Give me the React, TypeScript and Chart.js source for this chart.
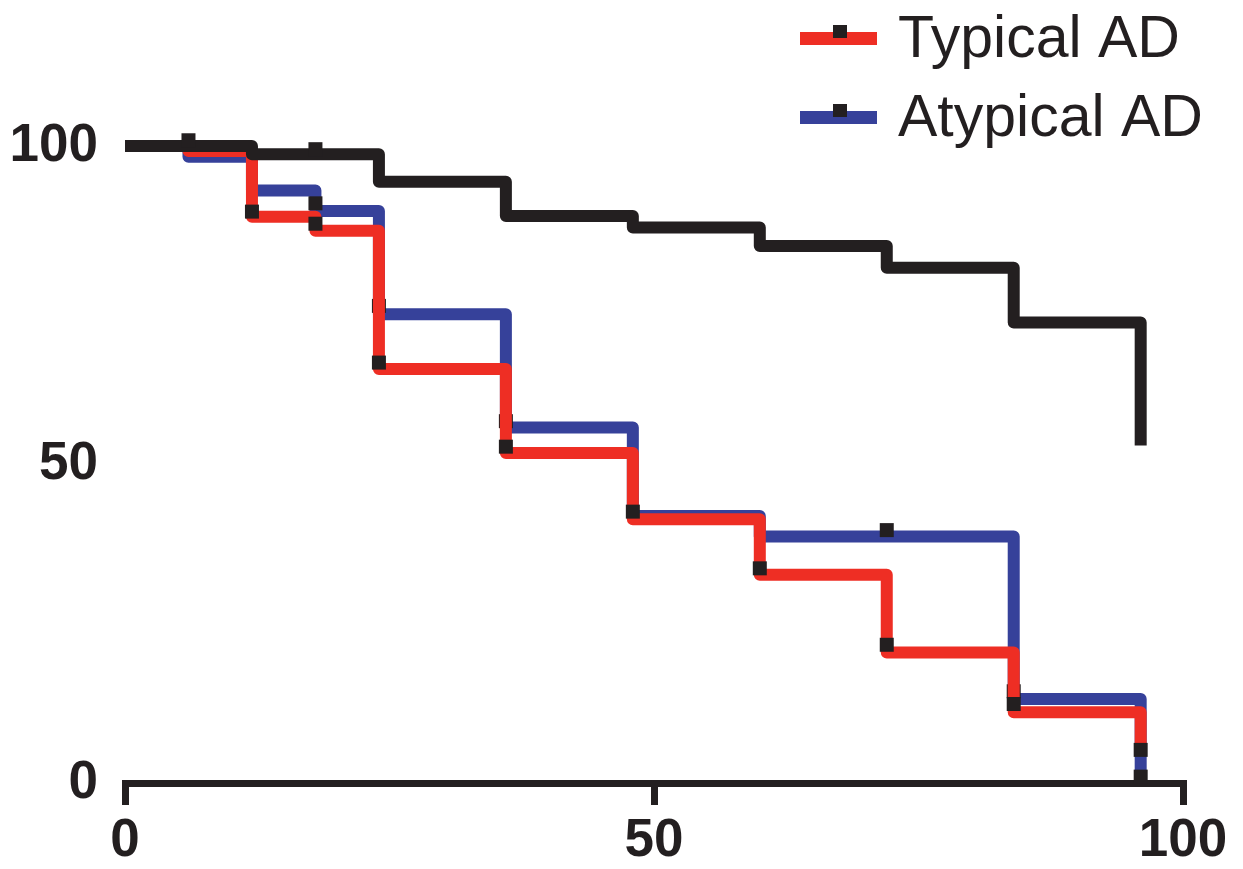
import React, { useEffect, useRef } from "react";
import { Chart, registerables } from "chart.js";

Chart.register(...registerables);

// ---- data (months vs % surviving) ----
const seriesNames = ["Control", "Typical AD", "Atypical AD"];

const controlMonths = [0, 12, 24, 36, 48, 60, 72, 84, 96];
const controlSurvival = [100, 98.7, 94.4, 89.0, 87.2, 84.3, 80.9, 72.3, 53.0];
const controlCensorMonths = [6, 18];
const controlCensorSurvival = [100.9, 99.5];

const typicalMonths = [0, 6, 12, 18, 24, 36, 48, 60, 72, 84, 96];
const typicalSurvival = [100, 99.2, 88.9, 86.7, 65.0, 51.8, 41.4, 32.7, 20.5, 11.1, 5.2];
const typicalCensorMonths = [12, 18, 24, 36, 48, 60, 72, 84, 96];
const typicalCensorSurvival = [89.7, 87.8, 66.0, 52.8, 42.6, 33.7, 21.7, 12.4, 5.2];

const atypicalMonths = [0, 6, 12, 18, 24, 36, 48, 60, 84, 96];
const atypicalSurvival = [100, 98.3, 93.0, 89.8, 73.6, 55.8, 41.9, 38.7, 13.2, 0];
const atypicalCensorMonths = [18, 24, 36, 72, 84, 96];
const atypicalCensorSurvival = [91.0, 74.9, 56.8, 39.7, 14.4, 1.0];

const xTickValues = [0, 50, 100];
const yTickValues = [0, 50, 100];

// ---- styles ----
const BLACK = "#231f20";
const RED = "#ee2e24";
const BLUE = "#36419a";
const FONT = "'Liberation Sans', Arial, Helvetica, sans-serif";

const toPoints = (xs: number[], ys: number[]) => xs.map((x, i) => ({ x, y: ys[i] }));

const lineDataset = (label: string, xs: number[], ys: number[], color: string, order: number, legend: boolean) => ({
  type: "line" as const,
  label,
  data: toPoints(xs, ys),
  borderColor: color,
  backgroundColor: color,
  borderWidth: 12,
  stepped: "before" as const,
  borderJoinStyle: "round" as const,
  borderCapStyle: "butt" as const,
  pointRadius: 0,
  pointHoverRadius: 0,
  fill: false,
  clip: false as const,
  order,
  inLegend: legend,
});

const markerDataset = (label: string, xs: number[], ys: number[], order: number) => ({
  type: "line" as const,
  label,
  data: toPoints(xs, ys),
  showLine: false,
  pointStyle: "rect" as const,
  pointRadius: 9.9,
  pointHoverRadius: 9.9,
  pointBackgroundColor: BLACK,
  pointBorderColor: BLACK,
  pointBorderWidth: 0,
  clip: false as const,
  order,
  inLegend: false,
});

const legendPlugin = {
  id: "kmLegend",
  afterDraw(chart: any) {
    const ctx = chart.ctx as CanvasRenderingContext2D;
    const items = chart.data.datasets.filter((d: any) => d.inLegend);
    ctx.save();
    items.forEach((ds: any, i: number) => {
      const cy = 38.5 + i * 79;
      ctx.fillStyle = ds.borderColor;
      ctx.fillRect(800, cy - 6.5, 77, 13);
      ctx.fillStyle = BLACK;
      ctx.fillRect(833, cy - 13.5, 14, 13);
      ctx.font = `59px ${FONT}`;
      ctx.textBaseline = "alphabetic";
      ctx.textAlign = "left";
      ctx.fillStyle = BLACK;
      ctx.fillText(ds.label, 898, cy + 18.5);
    });
    ctx.restore();
  },
};

export default function App() {
  const canvasRef = useRef<HTMLCanvasElement | null>(null);

  useEffect(() => {
    document.body.style.margin = "0";
    const canvas = canvasRef.current;
    if (!canvas) return;

    const chart = new Chart(canvas, {
      type: "line",
      data: {
        datasets: [
          markerDataset(seriesNames[0] + " censored", controlCensorMonths, controlCensorSurvival, 0),
          lineDataset(seriesNames[0], controlMonths, controlSurvival, BLACK, 1, false),
          markerDataset(seriesNames[1] + " censored", typicalCensorMonths, typicalCensorSurvival, 2),
          lineDataset(seriesNames[1], typicalMonths, typicalSurvival, RED, 3, true),
          markerDataset(seriesNames[2] + " censored", atypicalCensorMonths, atypicalCensorSurvival, 4),
          lineDataset(seriesNames[2], atypicalMonths, atypicalSurvival, BLUE, 5, true),
        ] as any,
      },
      options: {
        animation: false,
        responsive: true,
        maintainAspectRatio: false,
        layout: { padding: { left: 10, right: 60, top: 146, bottom: 0 } },
        plugins: {
          legend: { display: false },
          tooltip: { enabled: false },
          title: { display: false },
        },
        scales: {
          x: {
            type: "linear",
            min: 0,
            max: 100,
            afterBuildTicks: (scale: any) => {
              scale.ticks = xTickValues.map((v) => ({ value: v }));
            },
            afterFit: (scale: any) => {
              scale.height = 86;
            },
            ticks: {
              color: BLACK,
              font: { family: FONT, size: 53, weight: "bold", lineHeight: 0.9 },
              padding: 13,
              maxRotation: 0,
              autoSkip: false,
            },
            grid: {
              display: true,
              drawOnChartArea: false,
              drawTicks: true,
              tickLength: 22,
              lineWidth: 7,
              color: BLACK,
            },
            border: { display: true, width: 7, color: BLACK },
          },
          y: {
            type: "linear",
            min: 0,
            max: 100,
            afterBuildTicks: (scale: any) => {
              scale.ticks = yTickValues.map((v) => ({ value: v }));
            },
            afterFit: (scale: any) => {
              scale.width = 115;
            },
            ticks: {
              color: BLACK,
              font: { family: FONT, size: 53, weight: "bold", lineHeight: 1 },
              padding: 27,
              autoSkip: false,
            },
            grid: { display: false, drawTicks: false },
            border: { display: false },
          },
        },
      } as any,
      plugins: [legendPlugin],
    });

    return () => chart.destroy();
  }, []);

  return (
    <div style={{ position: "relative", width: "1243px", height: "869px" }}>
      <canvas ref={canvasRef} />
    </div>
  );
}
